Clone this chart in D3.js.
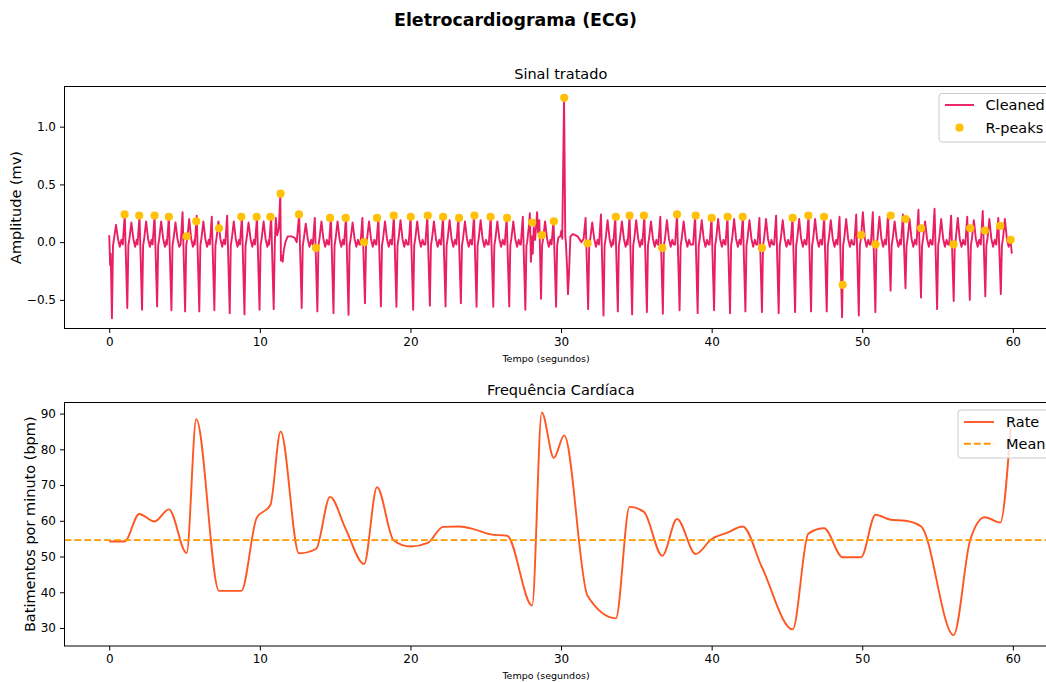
<!DOCTYPE html>
<html>
<head>
<meta charset="utf-8">
<title>Eletrocardiograma (ECG)</title>
<script src="https://d3js.org/d3.v7.min.js"></script>
<style>
    body { margin: 0; background: #fff; }
    svg { display: block; }
</style>
</head>
<body>
<div id="chart"></div>
<script>
// ---- ECG trace ----
// time of each S wave (the deep downward spike), seconds
var beatTime = [0.18, 1.20, 2.18, 3.18, 4.13, 5.04, 5.98, 6.98, 8.00, 8.98, 9.98, 10.92,
    12.78, 13.82, 14.89, 15.89, 16.98, 18.04, 19.07, 20.18, 21.29, 22.33, 23.35, 24.39,
    25.50, 26.56, 27.63, 28.67, 29.67, 31.80, 32.82, 33.77, 34.72, 35.70, 36.76, 37.87,
    39.07, 40.16, 41.22, 42.24, 43.34, 44.45, 45.54, 46.60, 47.64, 48.66, 49.77, 50.87,
    51.88, 52.87, 53.90, 54.97, 56.07, 57.14, 58.17, 59.20];
// depth of the S wave (mV)
var beatDepth = [-0.66, -0.57, -0.585, -0.557, -0.59, -0.60, -0.60, -0.59, -0.615, -0.626, -0.585, -0.58,
    -0.57, -0.60, -0.615, -0.63, -0.53, -0.557, -0.56, -0.585, -0.55, -0.557, -0.53, -0.56,
    -0.56, -0.557, -0.585, -0.49, -0.56, -0.58, -0.635, -0.60, -0.626, -0.606, -0.62, -0.59,
    -0.615, -0.59, -0.615, -0.60, -0.606, -0.615, -0.606, -0.60, -0.60, -0.65, -0.635, -0.606,
    -0.42, -0.40, -0.48, -0.58, -0.51, -0.50, -0.47, -0.45];
// height of the R spike just before each S
var beatR = [0.06, 0.24, 0.23, 0.23, 0.22, 0.26, 0.23, 0.22, 0.23, 0.22, 0.22, 0.22,
    0.24, 0.21, 0.22, 0.22, 0.21, 0.21, 0.23, 0.22, 0.23, 0.22, 0.21, 0.23,
    0.22, 0.21, 0.22, 0.23, 0.19, 0.21, 0.24, 0.22, 0.23, 0.23, 0.22, 0.24,
    0.23, 0.21, 0.22, 0.22, 0.21, 0.23, 0.22, 0.23, 0.22, 0.22, 0.24, 0.26,
    0.24, 0.24, 0.28, 0.29, 0.23, 0.22, 0.27, 0.21];
// height of the T wave after each S
var beatT = [0.15, 0.17, 0.18, 0.18, 0.17, 0.20, 0.18, 0.18, 0.18, 0.17, 0.18, 0.20,
    0.16, 0.18, 0.18, 0.17, 0.18, 0.18, 0.19, 0.18, 0.18, 0.19, 0.18, 0.19,
    0.18, 0.18, 0.20, 0.18, 0.18, 0.17, 0.19, 0.18, 0.19, 0.18, 0.19, 0.18,
    0.19, 0.20, 0.20, 0.19, 0.20, 0.19, 0.20, 0.20, 0.19, 0.20, 0.26, 0.22,
    0.18, 0.20, 0.18, 0.20, 0.21, 0.19, 0.20, 0.20];

// shape of one beat around its S wave: offset in s, and value (or which beat array)
var shapeOffset = [-0.30, -0.17, 0, 0.07, 0.15, 0.27, 0.40, 0.52, 0.63, 0.72];
var shapeValue = [-0.02, "R", "S", -0.03, 0.04, "T", 0.03, -0.04, 0.02, -0.02];

// stretches where the trace is irregular; points there are read one by one
var oddWindows = [[0, 0.12], [11.02, 12.55], [27.72, 28.60], [29.86, 31.56], [59.74, 60]];
var oddTime = [0.00, 0.06, 0.10,
    11.06, 11.15, 11.26, 11.36, 11.40, 11.47, 11.52, 11.58, 11.70, 11.85, 12.10, 12.30, 12.45,
    27.75, 27.86, 27.93, 28.00, 28.06, 28.12, 28.19, 28.28, 28.41, 28.48, 28.56,
    29.95, 30.02, 30.08, 30.20, 30.28, 30.32, 30.40, 30.46, 30.52, 30.62, 30.80, 31.10, 31.35, 31.50,
    59.84, 59.93];
var oddValue = [0.06, -0.20, -0.10,
    0.21, 0.06, 0.12, 0.42, -0.16, -0.12, -0.17, -0.08, 0.00, 0.05, 0.05, 0.04, 0.00,
    0.00, 0.13, 0.25, -0.17, 0.05, -0.10, 0.13, 0.02, 0.26, 0.08, 0.19,
    0.05, 0.10, 0.03, 1.25, 0.05, 0.00, -0.22, -0.45, -0.30, 0.05, 0.07, 0.05, 0.00, 0.03,
    0.03, -0.10];

// detected R-peaks
var peakTime = [1.02, 1.99, 3.01, 3.96, 5.14, 5.78, 7.29, 8.77, 9.79, 10.70, 11.38, 12.60,
    13.73, 14.66, 15.70, 16.92, 17.78, 18.89, 20.02, 21.15, 22.17, 23.23, 24.25, 25.32,
    26.42, 28.08, 28.72, 29.52, 30.21, 31.76, 33.64, 34.55, 35.50, 36.72, 37.70, 38.94,
    40.00, 41.06, 42.06, 43.34, 45.38, 46.42, 47.46, 48.70, 49.92, 50.88, 51.89, 52.87,
    53.91, 56.06, 57.17, 58.14, 59.16, 59.85];
var peakValue = [0.24, 0.23, 0.23, 0.22, 0.05, 0.18, 0.12, 0.22, 0.22, 0.22, 0.42, 0.24,
    -0.05, 0.21, 0.21, 0.00, 0.21, 0.23, 0.22, 0.23, 0.22, 0.21, 0.23, 0.22,
    0.21, 0.17, 0.06, 0.18, 1.25, -0.01, 0.22, 0.23, 0.23, -0.05, 0.24, 0.23,
    0.21, 0.22, 0.22, -0.05, 0.21, 0.23, 0.22, -0.37, 0.06, -0.02, 0.23, 0.20,
    0.12, -0.02, 0.12, 0.10, 0.14, 0.02];

// ---- heart rate ----
var rateTime = [0, 1.02, 1.99, 3.01, 3.96, 5.14, 5.78, 7.29, 8.77, 9.79, 10.70, 11.38, 12.60,
    13.73, 14.66, 15.70, 16.92, 17.78, 18.89, 20.02, 21.15, 22.17, 23.23, 24.25, 25.32,
    26.42, 28.08, 28.72, 29.52, 30.21, 31.76, 33.64, 34.55, 35.50, 36.72, 37.70, 38.94,
    40.00, 41.06, 42.06, 43.34, 45.38, 46.42, 47.46, 48.70, 49.92, 50.88, 51.89, 52.87,
    53.91, 56.06, 57.17, 58.14, 59.16, 59.85];
var rateBpm = [54.2, 54.2, 61.9, 59.8, 63.2, 51.0, 88.4, 40.4, 40.4, 60.8, 64.4, 85.0, 50.9,
    52.1, 66.7, 57.7, 47.9, 69.4, 54.5, 52.8, 53.8, 58.3, 58.4, 57.6, 56.2,
    55.8, 36.3, 90.3, 77.6, 83.9, 39.0, 32.7, 63.9, 62.5, 50.2, 60.5, 50.7,
    54.9, 56.7, 58.4, 47.0, 29.6, 56.4, 57.9, 49.8, 49.8, 61.7, 60.3, 60.0,
    58.4, 28.0, 54.7, 61.0, 59.5, 86.0];
var rateMean = 54.6;

var xTicks = [0, 10, 20, 30, 40, 50, 60];
var ecgTicks = [-0.5, 0.0, 0.5, 1.0];
var rateTicks = [30, 40, 50, 60, 70, 80, 90];

// build the trace from the beats
var ecg = [];
beatTime.forEach(function(tS, i) {
    var next = i + 1 < beatTime.length ? beatTime[i + 1] + shapeOffset[0] : Infinity;
    shapeOffset.forEach(function(dt, k) {
        var t = tS + dt;
        if (t < 0 || t >= next) return;
        var v = shapeValue[k];
        if (v === "R") v = beatR[i];
        else if (v === "S") v = beatDepth[i];
        else if (v === "T") v = beatT[i];
        ecg.push([t, v]);
    });
});
ecg = ecg.filter(function(p) {
    return !oddWindows.some(function(w) { return p[0] >= w[0] && p[0] <= w[1]; });
});
oddTime.forEach(function(t, i) { ecg.push([t, oddValue[i]]); });
ecg.sort(function(a, b) { return a[0] - b[0]; });

var W = 1046, H = 682;
var font = "'DejaVu Sans', sans-serif";
var svg = d3.select("#chart").append("svg").attr("width", W).attr("height", H)
    .style("font-family", font);
svg.append("rect").attr("width", W).attr("height", H).attr("fill", "#fff");

var x = d3.scaleLinear().domain([-2.97, 62.93]).range([64.5, 1057]);

function panel(top, bottom, yDomain, yTicks, yFmt, title, ylabel, ylabelX) {
    var y = d3.scaleLinear().domain(yDomain).range([bottom, top]);
    var g = svg.append("g");

    var ax = g.append("g").attr("transform", "translate(0," + bottom + ")")
        .call(d3.axisBottom(x).tickValues(xTicks).tickFormat(d3.format("d"))
            .tickSize(4.5).tickSizeOuter(0).tickPadding(4));
    var ay = g.append("g").attr("transform", "translate(64.5,0)")
        .call(d3.axisLeft(y).tickValues(yTicks).tickFormat(yFmt)
            .tickSize(4.5).tickSizeOuter(0).tickPadding(4));
    [ax, ay].forEach(function(a) {
        a.select(".domain").remove();
        a.attr("font-family", font).attr("font-size", 12);
        a.selectAll("text").attr("fill", "#000");
        a.selectAll("line").attr("stroke", "#000").attr("stroke-width", 1);
    });

    g.append("text").attr("x", 560.75).attr("y", top - 8)
        .attr("text-anchor", "middle").attr("font-size", 14.5).attr("fill", "#000")
        .text(title);
    g.append("text").attr("x", 546).attr("y", bottom + 33)
        .attr("text-anchor", "middle").attr("font-size", 9.5).attr("fill", "#000")
        .text("Tempo (segundos)");
    g.append("text")
        .attr("transform", "translate(" + ylabelX + "," + (top + bottom) / 2 + ") rotate(-90)")
        .attr("text-anchor", "middle").attr("dy", "0.35em")
        .attr("font-size", 14.5).attr("fill", "#000")
        .text(ylabel);
    return { g: g, y: y, top: top, bottom: bottom };
}

function frame(p) {
    p.g.append("rect").attr("x", 64.5).attr("y", p.top)
        .attr("width", 1057 - 64.5).attr("height", p.bottom - p.top)
        .attr("fill", "none").attr("stroke", "#000").attr("stroke-width", 1);
}

function legendBox(g, x0, y0, x1, y1) {
    g.append("rect").attr("x", x0).attr("y", y0).attr("width", x1 - x0).attr("height", y1 - y0)
        .attr("rx", 3).attr("fill", "#fff").attr("fill-opacity", 0.8)
        .attr("stroke", "#cccccc").attr("stroke-width", 1);
}

function legendText(g, xt, yc, label) {
    g.append("text").attr("x", xt).attr("y", yc).attr("dy", "0.35em")
        .attr("font-size", 14.5).attr("fill", "#000").text(label);
}

// ---- top panel: cleaned signal ----
var p1 = panel(86.5, 328.5, [-0.748, 1.348], ecgTicks, d3.format(".1f"),
    "Sinal tratado", "Amplitude (mv)", 16);

p1.g.append("path").datum(ecg)
    .attr("fill", "none").attr("stroke", "#E91E63").attr("stroke-width", 1.9)
    .attr("stroke-linejoin", "round")
    .attr("d", d3.line().x(function(d) { return x(d[0]); }).y(function(d) { return p1.y(d[1]); }));

p1.g.selectAll("circle.peak").data(peakTime).enter().append("circle")
    .attr("class", "peak")
    .attr("cx", function(d) { return x(d); })
    .attr("cy", function(d, i) { return p1.y(peakValue[i]); })
    .attr("r", 4.1).attr("fill", "#FFC107");
frame(p1);

legendBox(p1.g, 939, 93.5, 1050.5, 142);
p1.g.append("line").attr("x1", 945).attr("x2", 974).attr("y1", 105).attr("y2", 105)
    .attr("stroke", "#E91E63").attr("stroke-width", 1.9);
legendText(p1.g, 985.5, 105, "Cleaned");
p1.g.append("circle").attr("cx", 959.5).attr("cy", 127.7).attr("r", 4.1).attr("fill", "#FFC107");
legendText(p1.g, 985.5, 127.7, "R-peaks");

// ---- bottom panel: heart rate ----
var p2 = panel(402.5, 646, [24.96, 93.1], rateTicks, d3.format("d"),
    "Frequência Cardíaca", "Batimentos por minuto (bpm)", 30);

p2.g.append("path").datum(rateTime)
    .attr("fill", "none").attr("stroke", "#FF5722").attr("stroke-width", 1.9)
    .attr("d", d3.line().curve(d3.curveMonotoneX)
        .x(function(d) { return x(d); })
        .y(function(d, i) { return p2.y(rateBpm[i]); }));

p2.g.append("line").attr("x1", 64.5).attr("x2", 1057)
    .attr("y1", p2.y(rateMean)).attr("y2", p2.y(rateMean))
    .attr("stroke", "#FF9800").attr("stroke-width", 1.9).attr("stroke-dasharray", "6.9,3");
frame(p2);

legendBox(p2.g, 958, 410, 1050.5, 458);
p2.g.append("line").attr("x1", 964).attr("x2", 994).attr("y1", 422).attr("y2", 422)
    .attr("stroke", "#FF5722").attr("stroke-width", 1.9);
legendText(p2.g, 1006, 422, "Rate");
p2.g.append("line").attr("x1", 964).attr("x2", 994).attr("y1", 443.7).attr("y2", 443.7)
    .attr("stroke", "#FF9800").attr("stroke-width", 1.9).attr("stroke-dasharray", "6.9,3");
legendText(p2.g, 1006, 443.7, "Mean");

// ---- figure title ----
svg.append("text").attr("x", 515.5).attr("y", 26)
    .attr("text-anchor", "middle").attr("font-size", 17.4).attr("font-weight", "bold")
    .attr("fill", "#000").text("Eletrocardiograma (ECG)");
</script>
</body>
</html>
